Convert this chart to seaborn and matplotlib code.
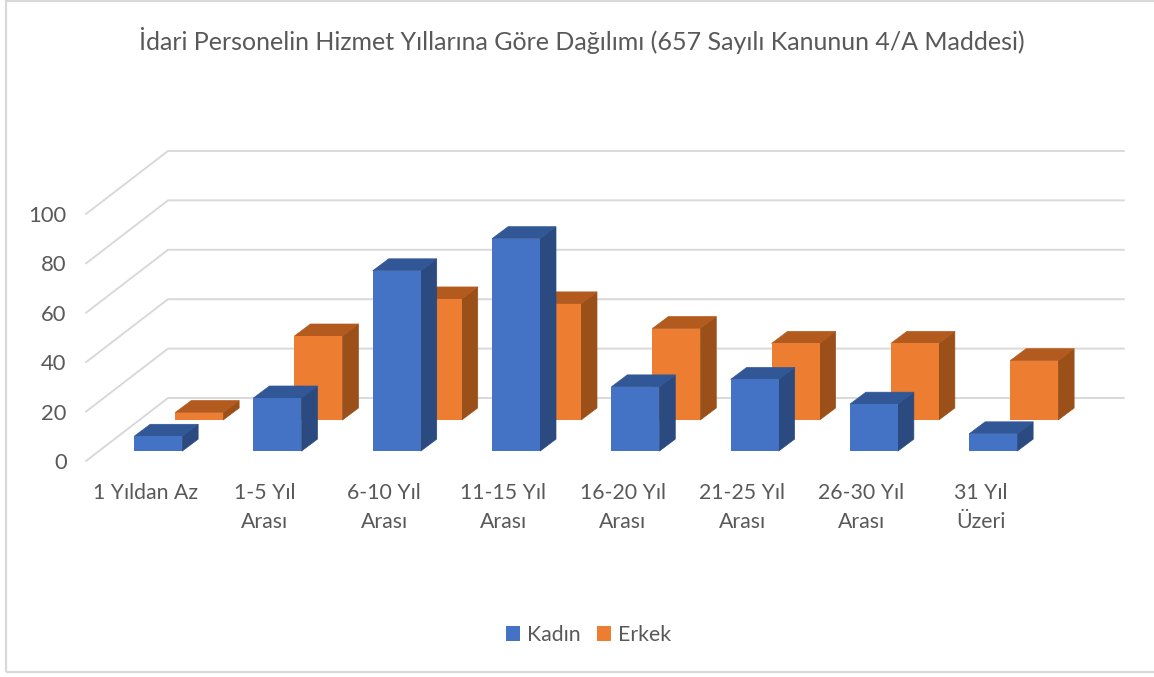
import matplotlib
matplotlib.use("Agg")
import pandas as pd
import seaborn as sns
import matplotlib.pyplot as plt
from matplotlib.patches import Polygon, Rectangle

# Values
categories = ["1 Yıldan Az", "1-5 Yıl\nArası", "6-10 Yıl\nArası", "11-15 Yıl\nArası",
              "16-20 Yıl\nArası", "21-25 Yıl\nArası", "26-30 Yıl\nArası", "31 Yıl\nÜzeri"]
kadin = [6, 21.5, 73, 86, 26, 29, 19, 7]
erkek = [3, 34, 49, 47, 37, 31, 31, 24]
y_ticks = [0, 20, 40, 60, 80, 100]
title = "İdari Personelin Hizmet Yıllarına Göre Dağılımı (657 Sayılı Kanunun 4/A Maddesi)"

W, H = 1154, 677
TEXT = "#595959"
GRID = "#d9d9d9"

sns.set_theme(style="white")
plt.rcParams["font.family"] = ["Lato", "DejaVu Sans"]

df = pd.DataFrame({
    "kategori": categories * 2,
    "deger": kadin + erkek,
    "cinsiyet": ["Kadın"] * 8 + ["Erkek"] * 8,
})

fig = plt.figure(figsize=(W / 100, H / 100), dpi=100, facecolor="white")
ax = fig.add_axes([86 / W, (H - 461) / H, (1124 - 86) / W, (461 - 151) / H])
ax.patch.set_alpha(0)

sns.barplot(data=df, x="kategori", y="deger", hue="cinsiyet", dodge=False, width=0.402,
            palette={"Kadın": "#4472C4", "Erkek": "#ED7D31"}, saturation=1, linewidth=0,
            legend=False, ax=ax)

x_left, x_right = -0.605, 8.097
y_top = 125.5
ax.set_xlim(x_left, x_right)
ax.set_ylim(0, y_top)

# 3D look: shift of each series and depth of a bar, in data units
wall_dx, wall_dy = 82 / 119.3, 63 / 2.47
depth_dx, depth_dy = 16 / 119.3, 12 / 2.47
styles = [
    {"shift": (0, 4), "side": "#2A4A80", "top": "#325796", "z": 4},
    {"shift": (41 / 119.3, 16.6), "side": "#9A5018", "top": "#B35A1F", "z": 3},
]

for container, st in zip(ax.containers, styles):
    for bar in container:
        bar.set_x(bar.get_x() + st["shift"][0])
        bar.set_y(st["shift"][1])
        bar.set_zorder(st["z"] + 0.1)
        x0, y0 = bar.get_x(), bar.get_y()
        x1, y1 = x0 + bar.get_width(), y0 + bar.get_height()
        ax.add_patch(Polygon([(x1, y0), (x1 + depth_dx, y0 + depth_dy),
                              (x1 + depth_dx, y1 + depth_dy), (x1, y1)],
                             fc=st["side"], ec=st["side"], lw=0.5, zorder=st["z"]))
        ax.add_patch(Polygon([(x0, y1), (x0 + depth_dx, y1 + depth_dy),
                              (x1 + depth_dx, y1 + depth_dy), (x1, y1)],
                             fc=st["top"], ec=st["top"], lw=0.5, zorder=st["z"]))

# back wall and side wall grid
for v in y_ticks:
    ax.plot([x_left, x_left + wall_dx, x_right], [v, v + wall_dy, v + wall_dy],
            color=GRID, lw=1.4, zorder=1, clip_on=False, solid_joinstyle="miter")

sns.despine(ax=ax, left=True, bottom=True)
ax.grid(False)
ax.set_xlabel("")
ax.set_ylabel("")
ax.set_yticks(y_ticks)
ax.set_xticks([i - 0.105 for i in range(len(categories))])
ax.set_xticklabels(categories, linespacing=1.53)
ax.tick_params(axis="y", length=0, pad=14, labelsize=15.8, labelcolor=TEXT)
ax.tick_params(axis="x", length=0, pad=16, labelsize=15.3, labelcolor=TEXT)

fig.text(582 / W, 1 - 40 / H, title, ha="center", va="center", fontsize=18, color=TEXT)

ax.legend(ax.containers, ["Kadın", "Erkek"], loc="center", bbox_to_anchor=(588.5 / W, 1 - 635 / H),
          bbox_transform=fig.transFigure, ncol=2, frameon=False, fontsize=15.3, labelcolor=TEXT,
          handlelength=0.65, handleheight=0.65, handletextpad=0.35, columnspacing=0.75)

# outer frame of the picture
fig.add_artist(Rectangle((6 / W, (H - 672) / H), (W + 20) / W, (672 - 1) / H, transform=fig.transFigure,
                         fc="none", ec=GRID, lw=1.6))

fig.savefig("out.png", dpi=100)
